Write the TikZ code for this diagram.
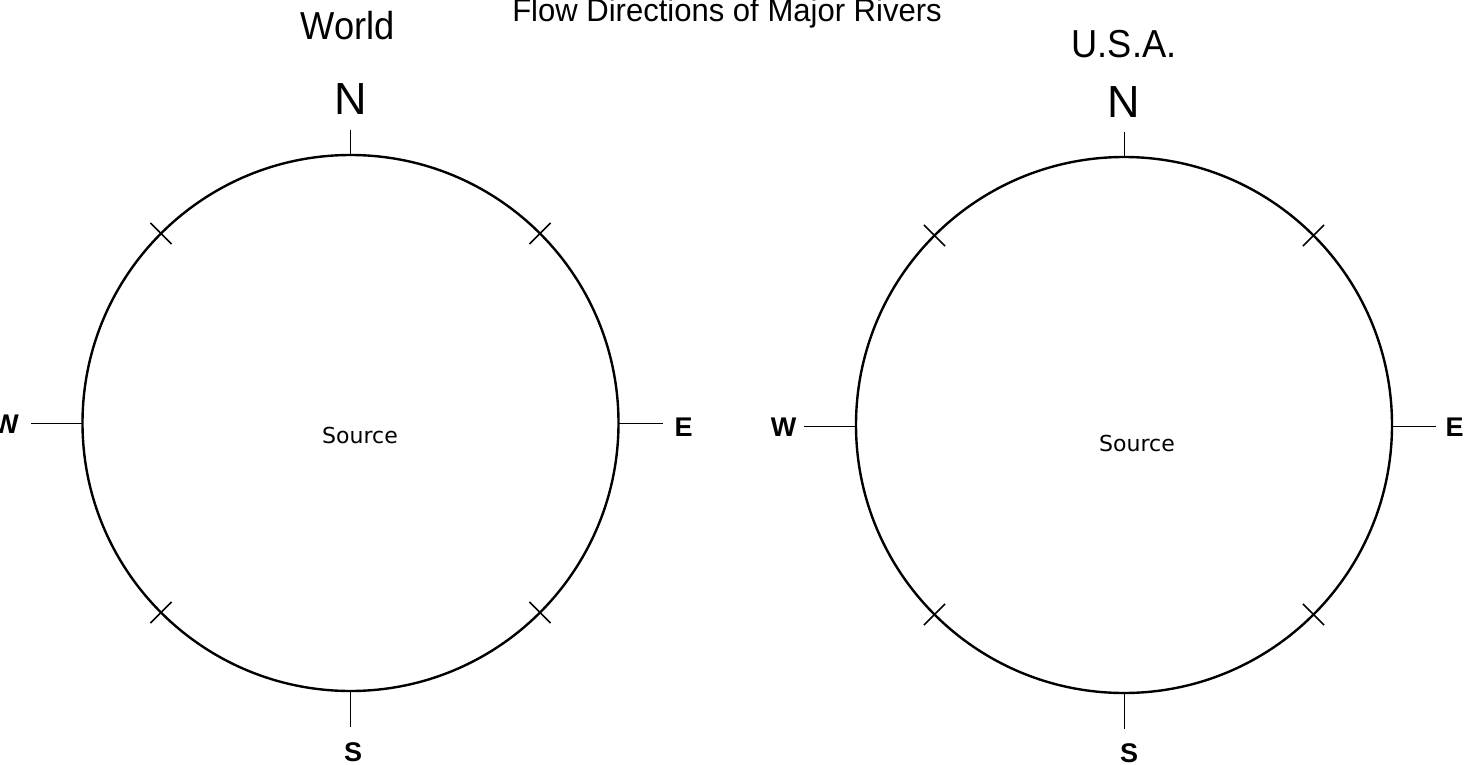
\documentclass[tikz,border=0pt]{standalone}
\usepackage{fontspec}
\setmainfont{Liberation Sans}
\newfontfamily\dejavu{DejaVu Sans}
\usetikzlibrary{calc}
\begin{document}
\begin{tikzpicture}[x=1pt,y=-1pt,
  ring/.style={line width=2.4pt},
  tickline/.style={line width=1pt},
  crossline/.style={line width=1.5pt},
  lbl/.style={inner sep=0pt, anchor=base},
  headtxt/.style={lbl, font=\fontsize{39}{39}\selectfont, xscale=0.93},
  titletxt/.style={lbl, font=\fontsize{32}{32}\selectfont, xscale=0.97},
  northtxt/.style={lbl, font=\fontsize{45}{45}\selectfont},
  dirtxt/.style={lbl, font=\fontsize{27}{27}\selectfont\bfseries},
  srctxt/.style={lbl, font=\dejavu\fontsize{22}{22}\selectfont}]
\useasboundingbox (0,0) rectangle (1472,765);

% ---------- World ----------
\coordinate (L) at (350.5,423);
\draw[ring] (L) circle[radius=268];
\coordinate (Ln1) at (350.5,130); \coordinate (Ln2) at (350.5,155);
\coordinate (Ls1) at (350.5,691); \coordinate (Ls2) at (350.5,727);
\coordinate (Lw1) at (31,423);    \coordinate (Lw2) at (83,423);
\coordinate (Le1) at (618,423);   \coordinate (Le2) at (663,423);
\draw[tickline] (Ln1) -- (Ln2);
\draw[tickline] (Ls1) -- (Ls2);
\draw[tickline] (Lw1) -- (Lw2);
\draw[tickline] (Le1) -- (Le2);
\foreach \a in {45,135,225,315}
  \draw[crossline] ($(L)+(\a:253)$) -- ($(L)+(\a:283)$);
\node[headtxt] (worldlbl) at (348,40) {World};
\node[northtxt] (Lnl) at (350.5,115) {N};
\node[dirtxt] (Lsl) at (353,761) {S};
\node[dirtxt] (Lwl) at (6,433) {W};
\node[dirtxt] (Lel) at (683.5,436) {E};
\node[srctxt] (Lsrc) at (360,443) {Source};

% ---------- Title ----------
\node[titletxt] (title) at (727,22) {Flow Directions of Major Rivers};

% ---------- U.S.A. ----------
\coordinate (R) at (1124,425);
\draw[ring] (R) circle[radius=268];
\coordinate (Rn1) at (1124,132); \coordinate (Rn2) at (1124,157);
\coordinate (Rs1) at (1124,693); \coordinate (Rs2) at (1124,729);
\coordinate (Rw1) at (804,426);  \coordinate (Rw2) at (856,426);
\coordinate (Re1) at (1392,426); \coordinate (Re2) at (1436,426);
\draw[tickline] (Rn1) -- (Rn2);
\draw[tickline] (Rs1) -- (Rs2);
\draw[tickline] (Rw1) -- (Rw2);
\draw[tickline] (Re1) -- (Re2);
\foreach \a in {45,135,225,315}
  \draw[crossline] ($(R)+(\a:253)$) -- ($(R)+(\a:283)$);
\node[headtxt] (usalbl) at (1124,58) {U.S.A.};
\node[northtxt] (Rnl) at (1124,118) {N};
\node[dirtxt] (Rsl) at (1129,762) {S};
\node[dirtxt] (Rwl) at (783.5,436) {W};
\node[dirtxt] (Rel) at (1454.5,436) {E};
\node[srctxt] (Rsrc) at (1137,451) {Source};
\end{tikzpicture}
\end{document}
